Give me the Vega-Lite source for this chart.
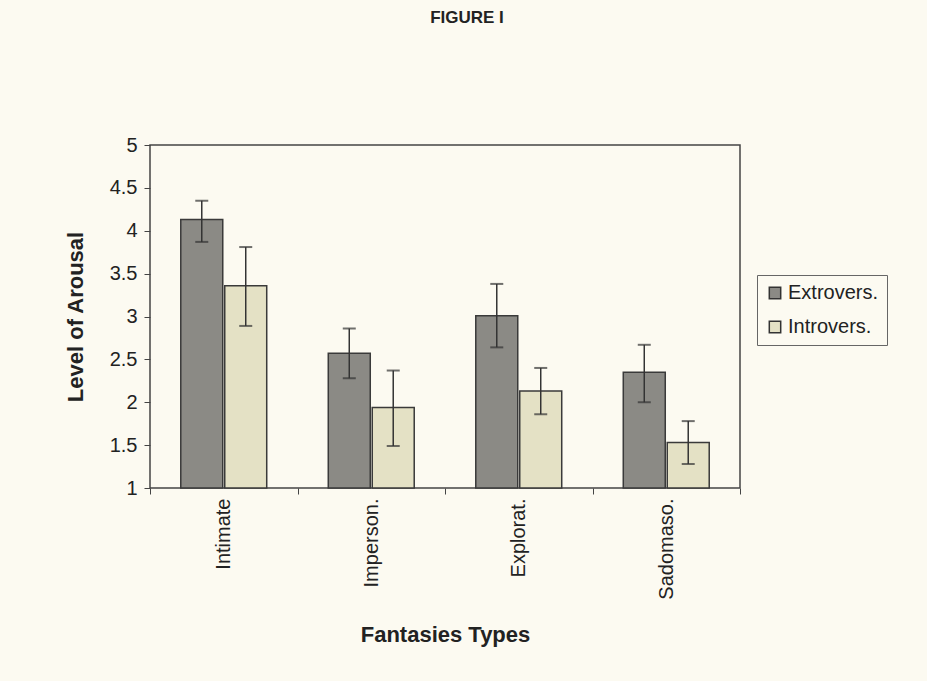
{
  "$schema": "https://vega.github.io/schema/vega-lite/v6.json",
  "autosize": {"type": "none"},
  "width": 590,
  "height": 343,
  "padding": {"left": 150, "top": 145, "right": 187, "bottom": 193},
  "background": "#fcfaf1",
  "title": {"text": "FIGURE I", "font": "Liberation Sans", "fontSize": 17, "fontWeight": "bold", "color": "#222", "anchor": "middle", "frame": "group", "offset": 108, "dx": 22},
  "config": {
    "font": "Liberation Sans",
    "view": {"stroke": "#444", "strokeWidth": 1.5, "fill": "#fcfaf1"},
    "axis": {"labelFont": "Liberation Sans", "titleFont": "Liberation Sans", "labelColor": "#222", "titleColor": "#222", "domainColor": "#444", "tickColor": "#444", "grid": false}
  },
  "data": {"values": [
    {"type": "Intimate", "group": "Extrovers.", "mean": 4.13, "lo": 3.87, "hi": 4.35},
    {"type": "Intimate", "group": "Introvers.", "mean": 3.36, "lo": 2.89, "hi": 3.81},
    {"type": "Imperson.", "group": "Extrovers.", "mean": 2.57, "lo": 2.28, "hi": 2.86},
    {"type": "Imperson.", "group": "Introvers.", "mean": 1.94, "lo": 1.49, "hi": 2.37},
    {"type": "Explorat.", "group": "Extrovers.", "mean": 3.01, "lo": 2.64, "hi": 3.38},
    {"type": "Explorat.", "group": "Introvers.", "mean": 2.13, "lo": 1.86, "hi": 2.4},
    {"type": "Sadomaso.", "group": "Extrovers.", "mean": 2.35, "lo": 2.0, "hi": 2.67},
    {"type": "Sadomaso.", "group": "Introvers.", "mean": 1.53, "lo": 1.28, "hi": 1.78}
  ]},
  "encoding": {
    "x": {"field": "type", "type": "nominal", "sort": ["Intimate", "Imperson.", "Explorat.", "Sadomaso."],
      "scale": {"paddingInner": 0, "paddingOuter": 0},
      "axis": {"title": "Fantasies Types", "titleFontSize": 22, "titleFontWeight": "bold", "titlePadding": 25,
        "labelAngle": 270, "labelFontSize": 20, "labelPadding": 4, "tickBand": "extent", "tickSize": 6, "domain": false}},
    "xOffset": {"field": "group", "type": "nominal", "scale": {"paddingInner": 0.045, "paddingOuter": 0.7}}
  },
  "layer": [
    {
      "mark": {"type": "bar", "stroke": "#3a3a3a", "strokeWidth": 1.5},
      "encoding": {
        "y": {"field": "mean", "type": "quantitative", "scale": {"domain": [1, 5], "nice": false},
          "axis": {"title": "Level of Arousal", "titleFontSize": 22, "titleFontWeight": "bold", "titlePadding": 22,
            "values": [1, 1.5, 2, 2.5, 3, 3.5, 4, 4.5, 5], "format": "~g", "labelFontSize": 20, "labelPadding": 7, "tickSize": 6, "domain": false}},
        "y2": {"datum": 1},
        "fill": {"field": "group", "type": "nominal",
          "scale": {"domain": ["Extrovers.", "Introvers."], "range": ["#8b8a85", "#e4e1c5"]},
          "legend": {"title": null, "orient": "none", "legendX": 607, "legendY": 130, "symbolType": "square", "symbolSize": 130,
            "symbolStrokeColor": "#333", "symbolStrokeWidth": 1.5, "labelFontSize": 20, "labelColor": "#222", "labelFont": "Liberation Sans",
            "rowPadding": 14, "strokeColor": "#666", "padding": 8, "labelOffset": 3}}
      }
    },
    {
      "mark": {"type": "rule", "color": "#333", "strokeWidth": 1.5},
      "encoding": {"y": {"field": "lo", "type": "quantitative"}, "y2": {"field": "hi"}}
    },
    {
      "mark": {"type": "tick", "color": "#333", "thickness": 2, "size": 13},
      "encoding": {"y": {"field": "lo", "type": "quantitative"}}
    },
    {
      "mark": {"type": "tick", "color": "#333", "thickness": 2, "size": 13},
      "encoding": {"y": {"field": "hi", "type": "quantitative"}}
    }
  ]
}
